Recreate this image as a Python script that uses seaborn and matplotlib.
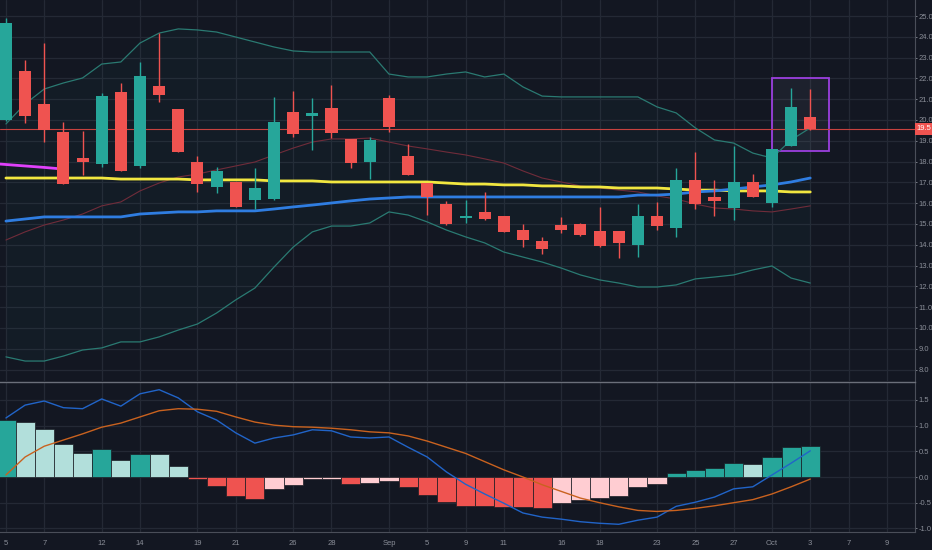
import numpy as np
import pandas as pd
import matplotlib
matplotlib.use("Agg")
import matplotlib.pyplot as plt
import matplotlib.transforms as mtransforms
from matplotlib.patches import Rectangle
import seaborn as sns

# --- daily bars, Aug 5 2019 -> Oct 3 2019 ---
opens  = [20.00, 22.36, 20.77, 19.42, 18.17, 17.88, 21.35, 17.79, 21.63, 20.53,
          17.98, 16.78, 17.02, 16.15, 16.20, 20.38, 20.19, 20.58, 19.09, 17.98,
          21.06, 18.27, 16.97, 15.96, 15.30, 15.58, 15.38, 14.71, 14.18, 14.95,
          15.00, 14.66, 14.66, 13.99, 15.38, 14.81, 17.12, 16.30, 15.77, 17.03,
          16.01, 18.75, 20.14]
highs  = [24.90, 22.88, 23.70, 19.90, 19.47, 21.30, 21.78, 22.79, 24.18, 20.53,
          18.27, 17.74, 17.02, 17.69, 21.10, 21.39, 21.06, 21.68, 19.10, 19.18,
          21.20, 18.85, 16.97, 16.10, 16.15, 16.54, 15.38, 15.00, 14.38, 15.34,
          15.05, 15.82, 14.66, 15.96, 16.06, 17.69, 18.46, 17.12, 18.75, 17.40,
          18.60, 21.54, 21.49]
lows   = [19.95, 19.86, 18.94, 16.90, 17.36, 17.74, 17.55, 17.70, 20.87, 18.46,
          16.54, 16.49, 15.82, 15.72, 16.15, 19.18, 18.56, 19.13, 17.69, 17.16,
          19.42, 17.36, 15.43, 14.95, 15.05, 15.19, 14.62, 13.89, 13.56, 14.57,
          14.40, 13.89, 13.37, 13.42, 14.71, 14.38, 15.72, 15.38, 15.19, 16.30,
          15.82, 18.75, 19.50]
closes = [24.65, 20.19, 19.52, 16.92, 17.98, 21.15, 17.55, 22.12, 21.20, 18.46,
          16.92, 17.55, 15.82, 16.73, 19.90, 19.33, 20.34, 19.38, 17.93, 19.04,
          19.66, 17.36, 16.30, 15.00, 15.33, 15.24, 14.62, 14.23, 13.80, 14.71,
          14.47, 13.94, 14.09, 15.38, 14.90, 17.12, 15.96, 16.11, 17.03, 16.30,
          18.60, 20.63, 19.57]

bb_upper = [19.81, 20.77, 21.49, 21.78, 22.02, 22.69, 22.79, 23.70, 24.18, 24.38,
            24.33, 24.23, 23.99, 23.75, 23.51, 23.32, 23.27, 23.27, 23.27, 23.27,
            22.21, 22.07, 22.07, 22.21, 22.31, 22.07, 22.21, 21.59, 21.15, 21.11,
            21.11, 21.11, 21.11, 21.11, 20.63, 20.34, 19.62, 19.04, 18.89, 18.41,
            18.17, 19.04, 19.62]
bb_mid   = [14.23, 14.62, 14.95, 15.19, 15.48, 15.87, 16.06, 16.59, 16.97, 17.26,
            17.40, 17.60, 17.79, 17.98, 18.32, 18.65, 18.94, 19.09, 19.09, 19.13,
            18.94, 18.75, 18.61, 18.46, 18.32, 18.13, 17.93, 17.55, 17.21, 17.02,
            16.83, 16.73, 16.63, 16.54, 16.35, 16.20, 15.96, 15.77, 15.72, 15.63,
            15.58, 15.72, 15.87]
bb_lower = [8.61, 8.41, 8.41, 8.65, 8.94, 9.04, 9.33, 9.33, 9.57, 9.90,
            10.19, 10.72, 11.35, 11.92, 12.93, 13.89, 14.62, 14.90, 14.90, 15.05,
            15.58, 15.43, 15.10, 14.71, 14.38, 14.09, 13.65, 13.41, 13.17, 12.88,
            12.55, 12.31, 12.16, 11.97, 11.97, 12.07, 12.36, 12.45, 12.55, 12.79,
            12.98, 12.40, 12.16]

ma_yellow = [17.21, 17.21, 17.21, 17.21, 17.21, 17.21, 17.16, 17.16, 17.16, 17.16,
             17.12, 17.12, 17.12, 17.12, 17.07, 17.07, 17.07, 17.02, 17.02, 17.02,
             17.02, 17.02, 17.02, 16.97, 16.92, 16.92, 16.88, 16.88, 16.83, 16.83,
             16.78, 16.78, 16.73, 16.73, 16.73, 16.68, 16.63, 16.63, 16.59, 16.59,
             16.59, 16.54, 16.54]
ma_blue   = [15.14, 15.24, 15.34, 15.34, 15.34, 15.34, 15.34, 15.48, 15.53, 15.58,
             15.58, 15.63, 15.63, 15.63, 15.72, 15.82, 15.91, 16.01, 16.11, 16.20,
             16.25, 16.30, 16.30, 16.30, 16.30, 16.30, 16.30, 16.30, 16.30, 16.30,
             16.30, 16.30, 16.30, 16.39, 16.39, 16.44, 16.54, 16.59, 16.68, 16.78,
             16.88, 17.02, 17.21]
ma_magenta_day = [-1, 0, 1, 2, 3]
ma_magenta     = [17.93, 17.86, 17.79, 17.72, 17.64]

macd_line = [1.15, 1.40, 1.48, 1.35, 1.33, 1.52, 1.38, 1.62, 1.70, 1.54,
             1.27, 1.11, 0.86, 0.66, 0.76, 0.82, 0.92, 0.90, 0.78, 0.76,
             0.78, 0.58, 0.39, 0.10, -0.14, -0.33, -0.51, -0.70, -0.78, -0.82,
             -0.87, -0.90, -0.92, -0.84, -0.78, -0.57, -0.49, -0.39, -0.23, -0.19,
             0.04, 0.27, 0.51]
signal_line = [0.04, 0.39, 0.60, 0.72, 0.84, 0.97, 1.05, 1.17, 1.29, 1.33,
               1.32, 1.28, 1.17, 1.07, 1.01, 0.98, 0.97, 0.95, 0.92, 0.88,
               0.86, 0.80, 0.70, 0.58, 0.46, 0.30, 0.14, 0.00, -0.15, -0.28,
               -0.41, -0.50, -0.58, -0.65, -0.67, -0.65, -0.61, -0.56, -0.50, -0.44,
               -0.33, -0.19, -0.04]
macd_hist = [1.11, 1.07, 0.93, 0.64, 0.47, 0.55, 0.33, 0.45, 0.44, 0.22,
             -0.04, -0.17, -0.37, -0.42, -0.23, -0.16, -0.04, -0.03, -0.13, -0.12,
             -0.08, -0.20, -0.34, -0.49, -0.56, -0.57, -0.58, -0.59, -0.61, -0.51,
             -0.45, -0.40, -0.36, -0.19, -0.13, 0.07, 0.13, 0.18, 0.28, 0.26,
             0.39, 0.58, 0.61]

tick_dates  = ["2019-08-05", "2019-08-07", "2019-08-12", "2019-08-14", "2019-08-19",
               "2019-08-21", "2019-08-26", "2019-08-28", "2019-09-03", "2019-09-05",
               "2019-09-09", "2019-09-11", "2019-09-16", "2019-09-18", "2019-09-23",
               "2019-09-25", "2019-09-27", "2019-10-01", "2019-10-03", "2019-10-07",
               "2019-10-09"]
tick_labels = ["5", "7", "12", "14", "19", "21", "26", "28", "Sep", "5", "9", "11",
               "16", "18", "23", "25", "27", "Oct", "3", "7", "9"]
holidays = ["2019-09-02"]
last_price_label = "19.5"
box_days = (40, 43)
box_prices = (18.5, 22.0)

# --- style ---
BG = "#131722"
GRID = "#242935"
TXT = "#8a8e98"
UP, DOWN = "#26a69a", "#ef5350"
NARROW = ["Liberation Sans Narrow", "Liberation Sans", "DejaVu Sans"]

sns.set_theme(style="dark", rc={"axes.facecolor": BG, "figure.facecolor": BG})
plt.rcParams["font.family"] = NARROW

sessions = pd.bdate_range("2019-08-05", "2019-10-31").drop(pd.to_datetime(holidays))
tick_pos = [sessions.get_loc(pd.Timestamp(d)) for d in tick_dates]

df = pd.DataFrame({"open": opens, "high": highs, "low": lows, "close": closes,
                   "upper": bb_upper, "mid": bb_mid, "lower": bb_lower,
                   "yellow": ma_yellow, "blue": ma_blue,
                   "macd": macd_line, "signal": signal_line, "hist": macd_hist})
df["day"] = np.arange(len(df))
up = df["close"] >= df["open"]

fig = plt.figure(figsize=(9.32, 5.5), dpi=100)
ax = fig.add_axes([0, 1 - 381 / 550, 915 / 932, 381 / 550])
axm = fig.add_axes([0, 1 - 532 / 550, 915 / 932, 150 / 550])

xlim = (-0.31, 47.47)

# price panel
ax.fill_between(df["day"], df["lower"], df["upper"], color=UP, alpha=0.035, lw=0, zorder=1)
sns.lineplot(data=df, x="day", y="upper", ax=ax, color="#2a7a72", lw=0.9, zorder=2)
sns.lineplot(data=df, x="day", y="lower", ax=ax, color="#2a7a72", lw=0.9, zorder=2)
sns.lineplot(data=df, x="day", y="mid", ax=ax, color="#702c3a", lw=0.8, zorder=2)
sns.lineplot(data=df, x="day", y="yellow", ax=ax, color="#f2e740", lw=2.0, zorder=2)
sns.lineplot(data=df, x="day", y="blue", ax=ax, color="#2f7de1", lw=2.0, zorder=2)
sns.lineplot(x=ma_magenta_day, y=ma_magenta, ax=ax, color="#e040fb", lw=2.0, zorder=2)

ax.add_patch(Rectangle((box_days[0], box_prices[0]), box_days[1] - box_days[0] - 0.02,
                       box_prices[1] - box_prices[0], facecolor=(0.6, 0.6, 0.7, 0.08),
                       edgecolor="#9b3fdf", lw=1.3, zorder=1.5))

ax.axhline(df["close"].iloc[-1], color="#c8423f", lw=0.8, zorder=1.8)

colors = np.where(up, UP, DOWN)
ax.vlines(df["day"], df["low"], df["high"], colors=colors, lw=1.0, zorder=3)
body = (df["close"] - df["open"]).abs().clip(lower=0.07)
ax.bar(df["day"], body, bottom=df[["open", "close"]].min(axis=1), width=0.63,
       color=colors, lw=0, zorder=4)

ax.set_xlim(*xlim)
ax.set_ylim(7.45, 25.77)
ax.set_xticks(tick_pos)
ax.set_xticklabels([])
ax.set_yticks(np.arange(8, 26))
ax.set_yticklabels([f"{v:.1f}" for v in np.arange(8, 26)])
ax.yaxis.tick_right()
ax.tick_params(axis="y", labelsize=5.5, colors=TXT, length=1.5, pad=1.0, width=0.6)
ax.tick_params(axis="x", length=0)
ax.grid(True, color=GRID, lw=0.9)
ax.set_xlabel("")
ax.set_ylabel("")
for s in ["top", "left", "bottom"]:
    ax.spines[s].set_visible(False)
ax.spines["right"].set_color("#4a4e59")
ax.spines["right"].set_linewidth(0.8)

trans = mtransforms.blended_transform_factory(ax.transAxes, ax.transData)
ax.text(1.002, df["close"].iloc[-1], last_price_label, transform=trans, ha="left",
        va="center", fontsize=5.5, color="white", clip_on=False, zorder=10,
        bbox=dict(boxstyle="square,pad=0.3", fc=DOWN, ec="none"))

# MACD panel
prev = df["hist"].shift(1).fillna(df["hist"].iloc[0] - 1)
hist_colors = np.where(df["hist"] >= 0,
                       np.where(df["hist"] > prev, "#26a69a", "#b2dfdb"),
                       np.where(df["hist"] < prev, "#ef5350", "#ffcdd2"))
axm.bar(df["day"], df["hist"], width=1.0, color=hist_colors, edgecolor="#1a1d24",
        lw=0.5, zorder=2)
sns.lineplot(data=df, x="day", y="macd", ax=axm, color="#2164c8", lw=1.0, zorder=3)
sns.lineplot(data=df, x="day", y="signal", ax=axm, color="#c9621f", lw=1.0, zorder=3)

axm.set_xlim(*xlim)
axm.set_ylim(-1.07, 1.85)
axm.set_xticks(tick_pos)
axm.set_xticklabels(tick_labels)
mticks = [-1.0, -0.5, 0.0, 0.5, 1.0, 1.5]
axm.set_yticks(mticks)
axm.set_yticklabels([f"{v:.1f}" for v in mticks])
axm.yaxis.tick_right()
axm.tick_params(axis="y", labelsize=5.5, colors=TXT, length=1.5, pad=1.0, width=0.6)
axm.tick_params(axis="x", labelsize=5.5, colors=TXT, length=2.5, pad=3, width=0.6)
axm.grid(True, color=GRID, lw=0.9)
axm.set_xlabel("")
axm.set_ylabel("")
axm.spines["left"].set_visible(False)
axm.spines["top"].set_color("#6b6f7a")
axm.spines["top"].set_linewidth(1.0)
for s in ["right", "bottom"]:
    axm.spines[s].set_color("#4a4e59")
    axm.spines[s].set_linewidth(0.8)

fig.savefig("out.png", dpi=100, facecolor=BG)
